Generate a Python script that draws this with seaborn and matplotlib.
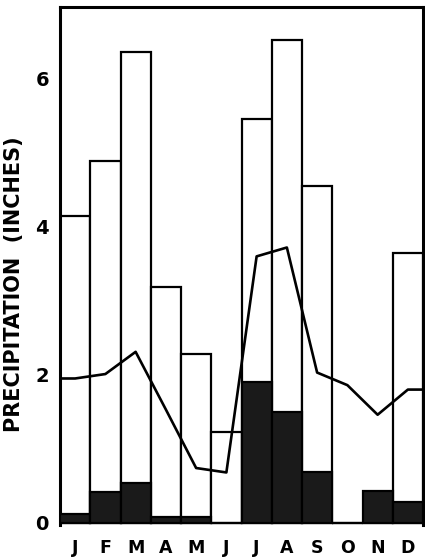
import numpy as np
import pandas as pd
import matplotlib
matplotlib.use('Agg')
import matplotlib.pyplot as plt
import seaborn as sns

# monthly precipitation (inches)
months = ['Jan', 'Feb', 'Mar', 'Apr', 'May', 'Jun',
          'Jul', 'Aug', 'Sep', 'Oct', 'Nov', 'Dec']
month_letters = ['J', 'F', 'M', 'A', 'M', 'J', 'J', 'A', 'S', 'O', 'N', 'D']
max_precip = [4.14, 4.89, 6.36, 3.19, 2.28, 1.23, 5.45, 6.53, 4.55, 0.0, 0.0, 3.64]
min_precip = [0.12, 0.42, 0.54, 0.08, 0.08, 0.0, 1.90, 1.50, 0.69, 0.0, 0.43, 0.28]
mean_precip = [1.95, 2.01, 2.31, 1.53, 0.74, 0.68, 3.60, 3.72, 2.03, 1.86, 1.46, 1.80]
y_ticks = [0, 2, 4, 6]

df = pd.DataFrame({'month': months, 'pos': np.arange(len(months)),
                   'max': max_precip, 'min': min_precip, 'mean': mean_precip})

sns.set_style('white')
plt.rcParams['font.family'] = ['DejaVu Sans']
plt.rcParams['text.color'] = 'black'
plt.rcParams['axes.labelcolor'] = 'black'
plt.rcParams['xtick.color'] = 'black'
plt.rcParams['ytick.color'] = 'black'

fig = plt.figure(figsize=(4.25, 5.6), dpi=100)
ax = fig.add_axes([60 / 425, 35 / 560, 363 / 425, 518 / 560])

# white bars = maximum, dark bars = minimum
sns.barplot(data=df, x='pos', y='max', native_scale=True, width=1.0,
            color='white', saturation=1, edgecolor='black', linewidth=1.6,
            ax=ax, zorder=2)
sns.barplot(data=df, x='pos', y='min', native_scale=True, width=1.0,
            color='#1a1a1a', saturation=1, edgecolor='black', linewidth=1.6,
            ax=ax, zorder=3)

# mean line, carried flat to the frame edges
xs = np.r_[-0.5, df['pos'].values, len(months) - 0.5]
ys = np.r_[mean_precip[0], mean_precip, mean_precip[-1]]
sns.lineplot(x=xs, y=ys, sort=False, color='black', linewidth=1.9,
             ax=ax, zorder=4)

ax.set_xlim(-0.5, len(months) - 0.5)
ax.set_ylim(-0.03, 6.97)
ax.set_xticks(df['pos'])
ax.set_xticklabels(month_letters, fontsize=12.5, fontweight='bold')
ax.set_yticks(y_ticks)
ax.set_yticklabels([str(t) for t in y_ticks], fontsize=14, fontweight='bold')
ax.tick_params(axis='x', length=0, pad=10, labelcolor='black')
ax.tick_params(axis='y', direction='in', length=4, width=1.5, pad=8,
               labelcolor='black', color='black')

ax.set_xlabel('')
ax.set_ylabel('PRECIPITATION  (INCHES)', fontsize=15, fontweight='bold',
              color='black')
ax.yaxis.set_label_coords(-0.10, 0.465)

for side in ['left', 'top', 'right']:
    ax.spines[side].set_visible(True)
    ax.spines[side].set_linewidth(2.2)
    ax.spines[side].set_color('black')
ax.spines['bottom'].set_visible(False)

fig.savefig('out.png', dpi=100)
